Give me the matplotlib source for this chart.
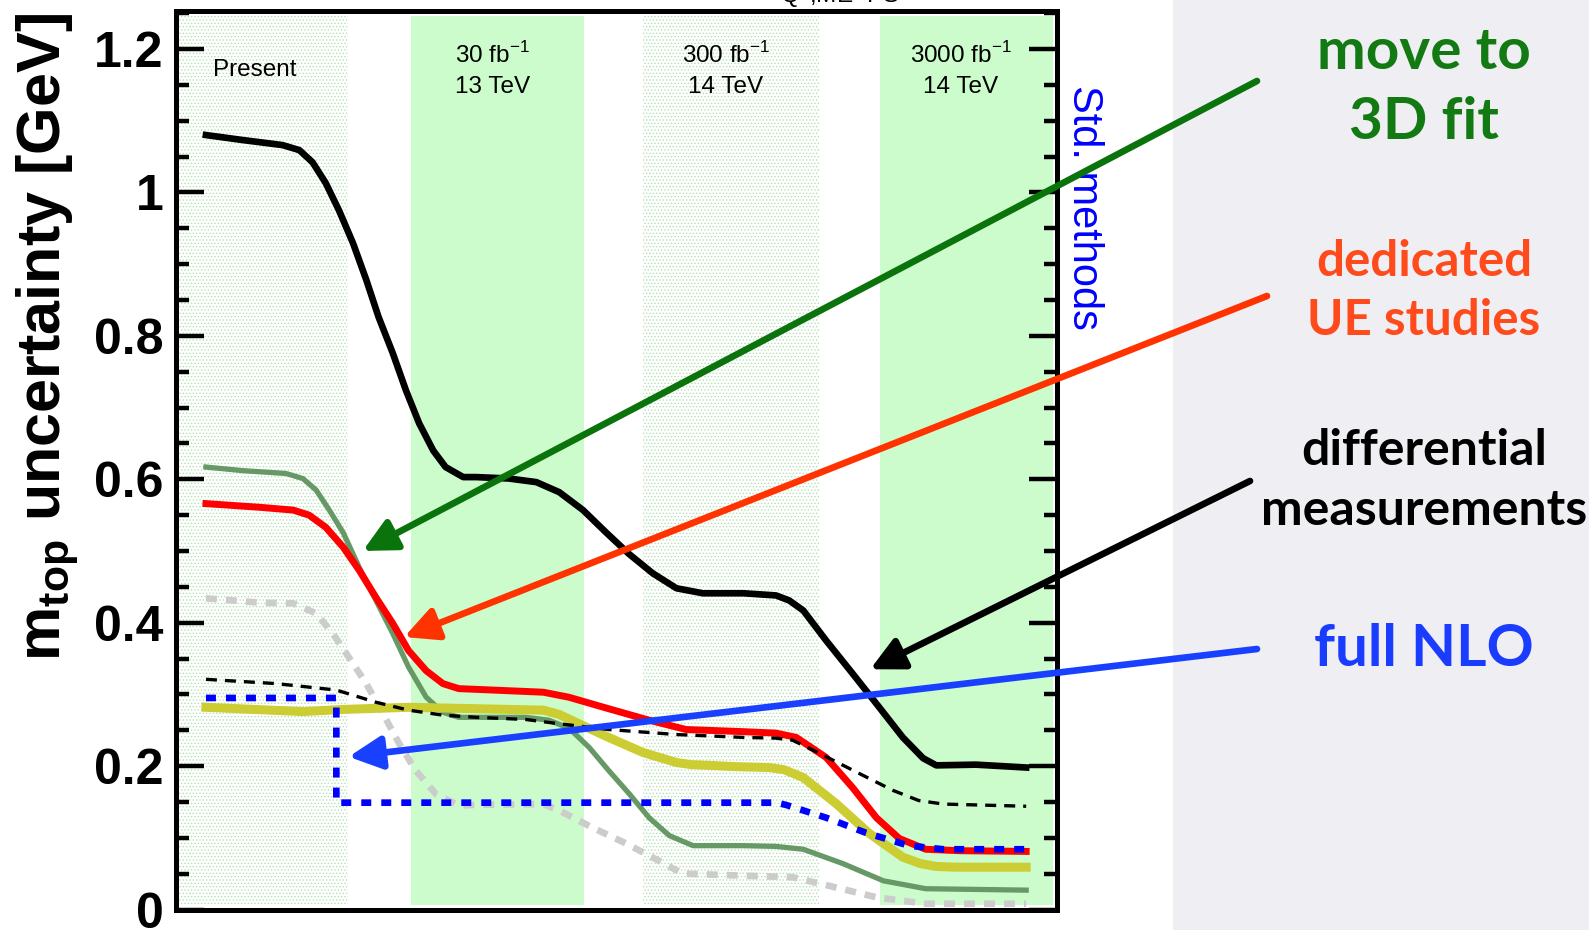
import matplotlib
matplotlib.use("Agg")
import matplotlib.pyplot as plt
from matplotlib.patches import Rectangle

plt.rcParams['font.family'] = ['Liberation Sans', 'DejaVu Sans']
plt.rcParams['mathtext.fontset'] = 'custom'
plt.rcParams['mathtext.rm'] = 'Liberation Sans'
plt.rcParams['mathtext.bf'] = 'Liberation Sans:bold'
plt.rcParams['hatch.linewidth'] = 0.6

W, H = 1589, 930

# luminosity scenarios (bands along x)
band_names = ['Present', '30 fb$^{\\mathrm{-1}}$', '300 fb$^{\\mathrm{-1}}$', '3000 fb$^{\\mathrm{-1}}$']
band_energy = ['', '13 TeV', '14 TeV', '14 TeV']
band_lo = [0.0, 26.7, 53.0, 79.9]
band_hi = [19.5, 46.3, 73.0, 99.5]
band_solid = [False, True, False, True]

# total uncertainty
x_tot = [3.4, 7.6, 12.1, 14.0, 15.5, 17.0, 18.5, 20.1, 21.6, 23.0, 24.6, 26.1, 27.6, 29.2, 30.6,
         32.6, 34.1, 37.8, 40.9, 43.5, 46.2, 48.8, 51.4, 54.1, 56.8, 59.8, 64.4, 68.1, 69.6, 71.2,
         73.8, 76.8, 79.5, 82.5, 84.8, 86.3, 90.8, 96.5]
y_tot = [1.080, 1.073, 1.066, 1.059, 1.042, 1.013, 0.975, 0.929, 0.878, 0.826, 0.776, 0.724, 0.678,
         0.640, 0.617, 0.603, 0.603, 0.601, 0.596, 0.582, 0.557, 0.526, 0.496, 0.469, 0.448, 0.441,
         0.441, 0.438, 0.431, 0.417, 0.375, 0.329, 0.287, 0.240, 0.211, 0.201, 0.202, 0.198]

# thin dashed black
x_dash = [3.4, 11.4, 18.2, 22.7, 26.4, 30.3, 34.1, 39.7, 43.5, 49.1, 56.8, 64.4, 68.1, 70.0, 73.0,
          77.5, 81.4, 84.3, 87.1, 96.5]
y_dash = [0.321, 0.315, 0.306, 0.289, 0.278, 0.271, 0.268, 0.265, 0.259, 0.251, 0.244, 0.240, 0.239,
          0.236, 0.218, 0.190, 0.166, 0.152, 0.147, 0.144]

# UE (red)
x_red = [3.4, 9.4, 13.3, 15.1, 17.0, 19.0, 20.8, 22.7, 24.6, 26.4, 28.4, 30.3, 32.1, 34.1, 41.7,
         44.6, 49.1, 53.7, 57.9, 64.4, 68.1, 70.4, 73.8, 76.8, 79.5, 82.1, 85.1, 88.9, 96.5]
y_red = [0.566, 0.561, 0.557, 0.550, 0.533, 0.505, 0.473, 0.435, 0.399, 0.361, 0.333, 0.315, 0.308,
         0.307, 0.303, 0.296, 0.280, 0.264, 0.251, 0.248, 0.246, 0.240, 0.212, 0.170, 0.128, 0.099,
         0.084, 0.082, 0.081]

# 3D fit (sage green)
x_grn = [3.4, 7.6, 12.5, 14.4, 15.9, 17.4, 19.0, 20.8, 22.7, 24.6, 26.4, 28.4, 30.3, 32.1, 34.1,
         39.7, 42.3, 44.6, 46.9, 49.1, 51.4, 53.7, 56.0, 58.7, 64.4, 68.1, 71.2, 75.7, 80.3, 85.1, 96.5]
y_grn = [0.617, 0.612, 0.608, 0.601, 0.585, 0.557, 0.525, 0.477, 0.431, 0.385, 0.338, 0.296, 0.275,
         0.268, 0.268, 0.268, 0.264, 0.253, 0.226, 0.194, 0.162, 0.128, 0.103, 0.089, 0.089, 0.088,
         0.084, 0.064, 0.040, 0.029, 0.027]

# yellow
x_yel = [3.4, 14.4, 19.0, 26.4, 34.1, 41.7, 43.5, 45.4, 49.1, 53.0, 56.8, 58.5, 60.5, 64.0, 67.3,
         69.0, 71.2, 74.9, 78.7, 82.5, 84.5, 86.3, 88.5, 96.5]
y_yel = [0.282, 0.276, 0.279, 0.282, 0.280, 0.278, 0.272, 0.261, 0.240, 0.219, 0.205, 0.202, 0.201,
         0.199, 0.198, 0.195, 0.184, 0.148, 0.106, 0.073, 0.064, 0.060, 0.059, 0.059]

# full NLO (blue dashed)
x_nlo = [3.4, 18.2, 18.2, 34.1, 53.0, 68.1, 69.2, 73.8, 78.3, 83.2, 87.1, 96.5]
y_nlo = [0.295, 0.295, 0.149, 0.149, 0.149, 0.149, 0.146, 0.128, 0.107, 0.089, 0.084, 0.084]

# light grey dashed
x_gry = [3.4, 9.4, 13.3, 15.9, 17.8, 19.6, 21.6, 23.5, 25.3, 27.2, 29.5, 32.1, 34.1, 41.7, 43.5,
         47.3, 51.1, 54.8, 57.5, 62.4, 70.0, 73.8, 79.5, 85.1, 96.5]
y_gry = [0.434, 0.428, 0.427, 0.413, 0.385, 0.352, 0.315, 0.273, 0.232, 0.194, 0.161, 0.145, 0.146,
         0.147, 0.138, 0.114, 0.092, 0.068, 0.050, 0.048, 0.045, 0.034, 0.017, 0.008, 0.008]

# callouts: label lines, size, colour, arrow colour, arrow tip (data), arrow tail (figure px),
# text baselines (px from top)
notes = [
    (['move to', '3D fit'], 42, '#137a13', '#0b730b', (21.2, 0.500), (1257, 849), [69, 139]),
    (['dedicated', 'UE studies'], 35.5, '#ff4a1c', '#ff3300', (25.9, 0.380), (1267, 634), [276, 335]),
    (['differential', 'measurements'], 36, '#000000', '#000000', (78.8, 0.335), (1250, 449), [465, 525]),
    (['full NLO'], 42, '#1a3cff', '#1a40ff', (19.6, 0.213), (1257, 281), [666]),
]

fig = plt.figure(figsize=(W / 100, H / 100), dpi=100)
fig.patches.append(Rectangle((1173 / W, 0), 1 - 1173 / W, 1, transform=fig.transFigure,
                             facecolor='#efeef3', edgecolor='none', zorder=-1))

ax = fig.add_axes([176 / W, 20.5 / H, (1057 - 176) / W, (909.5 - 11) / H])
ax.set_zorder(2)
ax.set_xlim(0, 100)
ax.set_ylim(0, 1.253)

for lo, hi, solid in zip(band_lo, band_hi, band_solid):
    if solid:
        ax.axvspan(lo, hi, ymin=0.005, ymax=0.9944, facecolor='#ccfccc', edgecolor='none', zorder=0)
    else:
        ax.axvspan(lo, hi, ymin=0.005, ymax=0.9944, facecolor='white', edgecolor='#b3e1b3',
                   hatch='.....', linewidth=0, zorder=0)

for i, (name, en) in enumerate(zip(band_names, band_energy)):
    xc = (band_lo[i] + band_hi[i]) / 2 - 0.6
    if en == '':
        ax.text(4.2, 1.1625, name, fontsize=17.5, ha='left', va='baseline')
    else:
        ax.text(xc, 1.1806, name, fontsize=17.5, ha='center', va='baseline')
        ax.text(xc, 1.1390, en, fontsize=17.5, ha='center', va='baseline')

ax.plot(x_gry, y_gry, color='#cccccc', lw=4.8, dashes=(1.65, 1.35), zorder=2)
ax.plot(x_grn, y_grn, color='#669966', lw=3.8, zorder=3, solid_joinstyle='round')
ax.plot(x_yel, y_yel, color='#cccc33', lw=6.5, zorder=3, solid_joinstyle='round')
ax.plot(x_red, y_red, color='#ff0000', lw=5.0, zorder=4, solid_joinstyle='round')
ax.plot(x_dash, y_dash, color='black', lw=2.4, dashes=(3.3, 2.4), zorder=4)
ax.plot(x_nlo, y_nlo, color='#0000ff', lw=4.8, dashes=(1.5, 1.5), zorder=5)
ax.plot(x_tot, y_tot, color='black', lw=4.8, zorder=5, solid_joinstyle='round')

ax.set_yticks([0, 0.2, 0.4, 0.6, 0.8, 1.0, 1.2])
ax.set_yticklabels(['0', '0.2', '0.4', '0.6', '0.8', '1', '1.2'])
ax.set_yticks([i * 0.05 for i in range(26)], minor=True)
ax.set_xticks([])
ax.tick_params(axis='y', which='both', direction='in', left=True, right=True, width=3.2,
               labelsize=36, pad=9)
ax.tick_params(axis='y', which='major', length=20)
ax.tick_params(axis='y', which='minor', length=9.5)
for lab in ax.get_yticklabels():
    lab.set_fontweight('bold')
for sp in ax.spines.values():
    sp.set_linewidth(3.6)
    sp.set_zorder(6)

fig.text(48 / W, 1 - 337 / H, r'm$_{\mathbf{top}}$ uncertainty [GeV]', rotation=90,
         fontsize=44, fontweight='bold', ha='center', va='center')
fig.text(840 / W, 1 - 3 / H, r'Q$^{\mathrm{2}}$,ME+PS', fontsize=17.5, ha='center', va='baseline')
fig.text(1084 / W, 1 - 207 / H, 'Std. methods', rotation=-90, fontsize=30, color='#0000ff',
         ha='center', va='center', zorder=1)

for lines, size, tcol, acol, tip, tail, bases in notes:
    for line, yb in zip(lines, bases):
        fig.text(1424 / W, 1 - yb / H, line, fontsize=size, fontweight='bold', color=tcol,
                 family=['Lato', 'DejaVu Sans'], ha='center', va='baseline', zorder=1)
    ax.annotate('', xy=tip, xycoords='data', xytext=tail, textcoords='figure pixels',
                annotation_clip=False, zorder=10,
                arrowprops=dict(arrowstyle='-|>,head_length=1.0,head_width=0.5', color=acol,
                                lw=4.8, mutation_scale=20, shrinkA=0, shrinkB=0))

fig.savefig('out.png', dpi=100)
